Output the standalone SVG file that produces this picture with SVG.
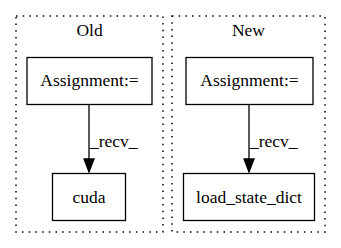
<svg xmlns="http://www.w3.org/2000/svg" width="341" height="248" viewBox="0 0 341 248">
  <style>
    .cluster { fill: none; stroke: #000; stroke-dasharray: 1.5 5.2; stroke-width: 1.5; }
    .node rect { fill: #fff; stroke: #000; stroke-width: 1.3; }
    text { font-family: "Liberation Serif", "Times New Roman", serif; font-size: 17.5px; fill: #000; }
    .edge line { stroke: #000; stroke-width: 1.3; }
    .edge polygon { fill: #000; stroke: #000; stroke-width: 1.3; }
  </style>
  <rect width="341" height="248" fill="#fff"/>

  <g id="cluster_old">
    <rect class="cluster" x="16" y="16" width="147" height="216"/>
    <text x="89.5" y="36" text-anchor="middle">Old</text>
  </g>
  <g id="cluster_new">
    <rect class="cluster" x="172" y="16" width="153" height="216"/>
    <text x="248.5" y="36" text-anchor="middle">New</text>
  </g>

  <g id="old_assignment" class="node">
    <rect x="27" y="57.5" width="125" height="47"/>
    <text x="89.5" y="86" text-anchor="middle">Assignment:=</text>
  </g>
  <g id="old_cuda" class="node">
    <rect x="52.5" y="173.5" width="73" height="47"/>
    <text x="89" y="203" text-anchor="middle">cuda</text>
  </g>
  <g id="new_assignment" class="node">
    <rect x="186" y="57.5" width="127" height="47"/>
    <text x="249.5" y="86" text-anchor="middle">Assignment:=</text>
  </g>
  <g id="new_load_state_dict" class="node">
    <rect x="183.5" y="173.5" width="131" height="47"/>
    <text x="249" y="203" text-anchor="middle">load_state_dict</text>
  </g>

  <g id="connectors">
    <g class="edge">
      <line x1="89" y1="105" x2="89" y2="159"/>
      <polygon points="84,159 94,159 89,172"/>
      <text x="90" y="147">_recv_</text>
    </g>
    <g class="edge">
      <line x1="249" y1="105" x2="249" y2="159"/>
      <polygon points="244,159 254,159 249,172"/>
      <text x="250" y="147">_recv_</text>
    </g>
  </g>
</svg>
